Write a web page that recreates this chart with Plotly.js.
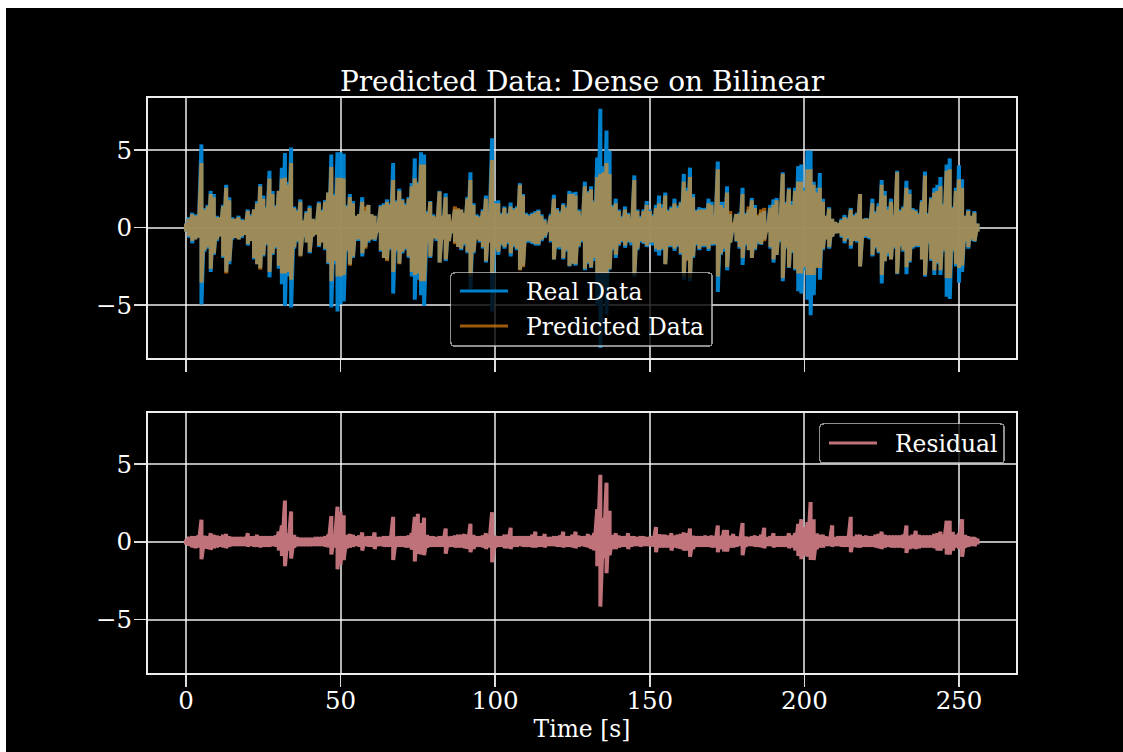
<!DOCTYPE html>
<html>
<head>
<meta charset="utf-8">
<script src="https://cdn.plot.ly/plotly-3.0.1.min.js"></script>
<style>
html,body{margin:0;padding:0;background:#fff;overflow:hidden}
#chart{position:absolute;left:6px;top:8px;width:1117px;height:744px}
</style>
</head>
<body>
<div id="chart"></div>
<script>
const titleText = "Predicted Data: Dense on Bilinear";
const xLabel = "Time [s]";
const xTicks = [0, 50, 100, 150, 200, 250];
const yTicks = [-5, 0, 5];
const realName = "Real Data";
const predName = "Predicted Data";
const resName = "Residual";

// Envelope magnitudes per second (t = 0..256) at the outer edge of the stroke.
const realUp = [
.3,.7,1.0,.9,.8,5.4,1.3,1.5,2.4,2.2,
.8,.7,1.5,2.8,2.0,.7,.6,.8,.6,.5,
1.2,.9,1.2,1.75,2.85,2.1,1.4,3.7,2.4,1.5,
2.4,3.9,4.85,3.0,5.2,1.4,1.2,1.85,.5,1.1,
1.45,.6,.5,1.7,1.2,1.8,2.3,4.75,2.2,4.9,
4.9,4.8,1.5,2.2,1.75,.8,.9,2.0,1.1,1.5,
.9,.8,.3,1.5,1.6,1.85,1.6,4.2,1.8,2.55,
1.9,1.6,2.0,2.9,4.5,3.0,4.9,4.75,1.1,1.75,
.9,.7,2.4,.8,2.25,.9,.4,1.2,1.2,1.2,
1.0,2.0,3.6,1.6,.9,.8,1.2,2.1,.9,5.8,
1.75,1.8,1.0,1.4,1.0,1.65,1.3,1.4,2.9,2.2,
1.0,.9,1.0,1.1,1.2,.9,.6,.2,.9,2.15,
1.3,1.1,1.6,1.4,2.4,2.3,2.35,1.2,.9,3.0,
2.4,2.7,1.8,4.55,7.7,4.0,6.3,5.0,1.5,1.9,
1.2,.8,1.4,1.0,.7,3.4,1.2,.8,1.2,1.75,
1.2,.9,1.5,2.1,1.55,2.3,1.2,1.4,1.9,1.45,
1.7,3.5,2.6,3.9,2.2,1.2,1.35,1.3,1.3,1.9,
1.7,.9,4.3,1.7,1.7,2.7,.9,.25,.9,1.0,
2.6,1.0,1.2,1.95,1.5,.8,1.0,1.1,.3,1.5,
1.85,1.95,.9,3.6,1.7,2.6,1.75,2.6,4.0,4.1,
2.6,5.0,5.0,3.0,2.6,3.55,1.9,.8,1.35,.6,
.4,.3,.6,.85,.7,1.3,.9,1.0,2.2,.6,
.65,.6,1.9,1.1,1.6,3.1,2.4,1.4,1.9,.9,
3.7,1.2,1.4,3.05,2.5,1.3,1.2,1.0,1.8,3.65,
1.0,2.0,2.6,2.8,3.3,1.6,4.1,4.5,1.4,2.6,
4.05,3.15,.8,1.2,.8,1.1,.3];
const realDown = [
.3,.7,1.05,.8,.7,5.0,1.6,1.4,2.9,1.8,
.9,.6,2.0,2.9,2.4,.8,.7,.8,.7,.5,
1.2,.9,2.1,2.4,2.65,1.9,1.2,3.25,1.8,1.4,
2.7,3.7,5.1,3.2,5.2,1.4,1.0,1.85,.7,1.0,
1.7,.6,.5,1.3,1.0,1.5,2.4,5.2,2.4,5.45,
5.0,4.8,1.6,2.4,2.0,.9,.9,1.9,1.3,1.0,
.8,.9,.35,1.6,2.0,2.1,1.5,4.3,1.6,2.35,
1.7,1.5,2.0,3.2,4.7,3.4,4.4,5.1,1.1,2.0,
.7,.9,2.3,.8,2.2,.9,.4,1.0,1.3,1.5,
1.2,1.7,4.0,1.7,.8,1.0,1.4,2.3,1.0,5.45,
1.5,1.8,1.2,1.4,1.1,1.9,1.3,1.5,2.75,2.5,
1.0,1.0,1.1,1.2,1.2,.9,.7,.3,1.0,2.1,
1.4,1.45,2.1,1.6,2.55,2.4,2.5,1.3,1.0,2.8,
2.4,2.65,2.2,5.1,7.8,4.0,5.65,2.75,1.5,2.0,
1.2,1.0,1.35,1.0,1.2,3.2,1.5,1.0,1.1,1.3,
1.1,1.2,1.6,1.85,1.5,2.4,1.3,1.3,1.55,1.3,
1.8,3.4,2.1,3.5,2.0,1.2,1.5,1.3,1.3,1.55,
1.2,1.2,4.2,1.8,1.6,2.8,1.0,.3,.95,1.4,
2.45,1.2,1.5,2.0,1.5,1.1,1.15,.8,.3,1.4,
2.3,1.8,1.0,3.5,1.4,2.65,1.7,2.8,4.15,4.3,
2.8,4.7,5.7,4.4,2.6,3.4,1.5,.8,1.4,.6,
.4,.4,.7,1.05,.8,1.4,.9,1.0,2.55,.7,
.7,.8,1.9,1.4,1.7,3.65,2.2,1.9,2.1,1.4,
3.05,1.3,1.6,3.05,2.3,1.4,1.3,1.3,2.1,3.2,
1.1,2.2,3.1,2.4,3.1,1.6,4.5,4.65,1.6,2.55,
3.6,2.9,1.0,1.4,.9,.95,.3];
const predUp = [
.3,.6,.9,.8,.8,4.2,1.2,1.4,2.2,2.0,
.7,.7,1.4,2.6,1.8,.6,.6,.7,.5,.5,
1.1,.8,1.2,1.6,2.7,1.9,1.3,3.2,2.2,1.4,
2.4,3.2,3.25,2.8,4.2,1.3,1.1,1.7,.5,1.0,
1.3,.6,.5,1.6,1.1,1.7,2.3,3.95,2.1,3.25,
3.25,3.2,1.4,2.0,1.6,.8,.9,1.7,1.4,1.5,
.9,.8,.3,1.4,1.5,1.7,1.5,3.1,1.7,2.4,
1.8,1.5,1.9,2.7,3.2,2.9,4.1,4.1,1.0,1.7,
.8,.7,2.35,.8,2.0,.9,.5,1.4,1.3,1.2,
1.0,1.9,3.1,1.5,.8,.7,1.1,1.9,.8,4.4,
1.6,1.6,.9,1.3,.9,1.4,1.2,1.3,2.8,2.1,
.9,.8,.9,1.0,1.1,.8,.5,.2,.8,1.9,
1.2,1.0,1.5,1.3,2.2,2.2,2.1,1.1,.8,2.7,
2.3,2.5,1.7,3.3,3.5,3.6,4.2,3.5,1.4,1.6,
1.1,.7,1.2,.9,.6,3.1,1.1,.7,1.1,1.5,
1.1,.8,1.3,1.6,1.3,2.1,1.1,1.3,1.6,1.3,
1.6,3.0,2.4,3.3,2.0,1.1,1.2,1.2,1.2,1.6,
1.5,.8,3.8,1.5,1.3,2.3,1.1,.4,.9,.9,
2.2,.9,1.4,1.8,1.3,.9,1.2,1.3,.35,1.3,
1.5,1.8,.8,3.5,1.6,2.5,1.5,2.4,3.0,3.0,
2.4,3.8,3.8,2.8,2.3,2.6,1.7,.8,1.25,.6,
.4,.3,.5,.7,.6,1.2,.8,.9,2.2,.6,
.6,.6,1.6,1.0,1.4,2.8,2.1,1.2,1.7,.8,
3.6,1.1,1.3,2.6,2.2,1.2,1.1,.9,1.7,3.4,
.9,1.9,2.3,2.4,2.7,1.5,3.7,3.8,1.3,2.4,
3.15,2.6,.8,1.1,.8,1.0,.3];
const predDown = [
.3,.6,.9,.8,.7,3.6,1.5,1.3,2.7,1.7,
.8,.6,1.9,3.0,2.2,.7,.7,.8,.6,.5,
1.1,.9,2.0,2.4,2.75,1.8,1.1,2.9,1.7,1.3,
2.5,3.0,3.0,2.9,3.4,1.3,.9,1.9,.6,1.0,
1.6,.6,.5,1.2,1.0,1.4,2.3,3.5,2.2,3.2,
3.2,3.1,1.5,2.5,1.9,.8,.8,1.7,1.4,.9,
.8,.8,.35,1.5,2.0,2.2,1.4,2.9,1.5,2.4,
1.6,1.4,1.9,2.9,3.1,3.0,3.5,3.5,1.0,1.9,
.7,.8,2.3,.8,2.1,.9,.4,1.1,1.3,1.4,
1.1,1.6,3.2,1.6,.8,.9,1.3,2.2,1.0,3.0,
1.4,1.6,1.1,1.3,1.0,1.7,1.2,1.4,2.8,2.6,
.9,.9,1.0,1.1,1.1,.8,.6,.3,.9,2.1,
1.3,1.3,2.0,1.5,2.5,2.35,2.4,1.2,.9,2.7,
2.3,2.6,2.0,3.0,3.0,3.0,3.0,2.7,1.4,1.8,
1.1,.9,1.2,.9,1.0,3.1,1.4,.9,1.0,1.2,
1.0,1.0,1.4,1.5,1.4,2.4,1.2,1.2,1.4,1.2,
1.7,3.2,2.2,3.3,1.9,1.1,1.4,1.2,1.2,1.4,
1.1,1.1,3.2,1.7,1.4,2.6,1.0,.35,.9,1.3,
2.0,1.1,1.5,2.0,1.4,1.0,1.1,.9,.35,1.3,
2.1,1.8,.9,3.3,1.3,2.6,1.6,2.7,3.0,3.0,
2.6,3.1,3.1,3.1,2.65,2.65,1.4,.8,1.3,.6,
.4,.4,.6,.9,.7,1.2,.9,.9,2.55,.6,
.6,.7,1.8,1.3,1.6,3.1,2.2,1.7,2.1,1.3,
3.0,1.2,1.5,2.6,2.2,1.3,1.2,1.2,2.1,3.1,
1.0,2.1,2.8,2.3,2.8,1.5,3.3,3.3,1.5,2.4,
2.65,2.5,.9,1.3,.8,.9,.3];
const resUp = [
.2,.35,.4,.4,.45,1.47,.45,.4,.6,.5,
.45,.4,.5,.55,.4,.35,.35,.35,.35,.35,
.6,.4,.4,.5,.4,.4,.4,.4,.4,.45,
.7,1.1,2.7,.6,2.0,.5,.35,.3,.3,.3,
.3,.3,.35,.35,.35,.4,.5,1.7,.5,2.3,
2.0,1.75,.5,.55,.5,.4,.45,.65,.4,.4,
.4,.65,.35,.35,.4,.4,.4,1.65,.4,.4,
.4,.4,.45,.6,1.65,1.85,1.25,1.6,.5,.4,
.4,.35,.4,.4,.9,.4,.4,.45,.5,.5,
.55,.5,1.2,.5,.4,.4,.45,.6,.45,1.95,
.45,.4,.4,.5,.5,.95,.4,.4,.4,.4,
.4,.4,.5,.7,.4,.4,.55,.35,.35,.4,
.4,.45,.7,.4,.4,.5,.7,.45,.4,.4,
.55,.45,.6,2.15,4.35,1.6,3.85,2.05,.5,.6,
.45,.4,.4,.6,.4,.4,.35,.4,.4,.35,
.35,.4,1.0,.55,.5,.5,.45,.6,.45,.5,
.55,.65,.6,.9,.45,.4,.4,.4,.45,.4,
.45,.4,1.1,.45,.8,.8,.45,.55,.4,.35,
1.25,.4,.35,.4,.45,.4,.5,.95,.35,.4,
.6,.4,.4,.4,.4,.6,.45,.6,1.2,1.5,
1.0,1.3,2.6,1.5,.6,.5,.5,.4,.35,1.1,
.35,.4,.4,.4,.4,1.65,.4,.5,.5,.4,
.45,.4,.4,.5,.55,.7,.5,.45,.45,.45,
.45,.45,.5,1.1,.45,.5,.75,.5,.45,.45,
.45,.45,.55,.6,.7,.5,1.4,1.4,.7,.5,
.6,1.5,.5,.4,.35,.35,.25];
const resDown = [
.2,.3,.4,.45,.4,1.15,.45,.5,.55,.45,
.4,.35,.4,.45,.35,.3,.3,.3,.3,.3,
.35,.3,.35,.35,.4,.35,.35,.35,.3,.35,
.6,.95,1.6,.6,1.1,.4,.3,.3,.3,.3,
.3,.3,.3,.3,.3,.35,.4,.85,.4,1.8,
1.5,1.2,.45,.4,.35,.3,.35,.6,.3,.35,
.35,.5,.3,.3,.35,.35,.35,1.2,.35,.35,
.35,.4,.4,.55,1.3,.8,.85,.9,.4,.35,
.35,.35,.35,.35,.8,.35,.35,.4,.4,.4,
.45,.5,.7,.5,.35,.35,.4,.5,.4,1.35,
.4,.35,.35,.45,.45,.5,.35,.35,.3,.35,
.35,.35,.4,.4,.35,.35,.4,.3,.3,.3,
.35,.35,.4,.35,.35,.4,.45,.35,.3,.35,
.4,.5,.6,1.6,4.2,1.1,2.05,.9,.5,.5,
.4,.35,.35,.5,.35,.3,.3,.35,.3,.3,
.3,.35,.7,.4,.4,.4,.4,.6,.4,.45,
.5,.6,.6,1.0,.5,.35,.35,.35,.35,.35,
.4,.4,.7,.5,.65,.65,.4,.4,.35,.3,
.9,.35,.3,.3,.35,.35,.4,.45,.3,.3,
.4,.35,.35,.35,.35,.45,.4,.6,.95,1.15,
.9,1.0,1.2,1.2,.5,.4,.4,.3,.3,.35,
.3,.3,.35,.35,.35,.7,.35,.4,.4,.35,
.35,.35,.35,.4,.45,.5,.4,.35,.4,.4,
.4,.4,.45,.75,.5,.45,.5,.45,.4,.4,
.4,.4,.45,.6,.6,.45,.85,.85,.6,.4,
.5,1.0,.4,.35,.3,.3,.2];

const edgeInset = 0.04; // part of a stroke, in y units

function weave(up, down) {
  const x = [], y = [];
  up.forEach((u, i) => {
    x.push(i, i);
    y.push(Math.max(u - edgeInset, 0.03), -Math.max(down[i] - edgeInset, 0.03));
  });
  return {x, y};
}

const real = weave(realUp, realDown);
const pred = weave(predUp, predDown);
const res = weave(resUp, resDown);

const serif = "DejaVu Serif, serif";
const traceBase = {type: "scatter", mode: "lines", hoverinfo: "skip"};
const data = [
  {...traceBase, ...real, name: realName, xaxis: "x", yaxis: "y", legend: "legend",
   line: {color: "rgba(0,134,214,0.96)", width: 4, simplify: false}},
  {...traceBase, ...pred, name: predName, xaxis: "x", yaxis: "y", legend: "legend",
   line: {color: "rgba(252,145,16,0.62)", width: 4, simplify: false}},
  {...traceBase, ...res, name: resName, xaxis: "x2", yaxis: "y2", legend: "legend2",
   line: {color: "#c0727b", width: 4, simplify: false}}
];

const xBase = {
  range: [-12.29, 268.43], tickmode: "array", tickvals: xTicks,
  showgrid: true, gridcolor: "rgba(255,255,255,0.7)", gridwidth: 2,
  zeroline: false, showline: true, mirror: true, linecolor: "#eeeeee", linewidth: 2,
  ticks: "outside", ticklen: 12, tickwidth: 1.5, tickcolor: "#dddddd",
  tickfont: {family: serif, size: 24.5, color: "#ffffff"}
};
const yBase = {
  tickmode: "array", tickvals: yTicks,
  showgrid: true, gridcolor: "rgba(255,255,255,0.7)", gridwidth: 2,
  zeroline: false, showline: true, mirror: true, linecolor: "#eeeeee", linewidth: 2,
  ticks: "outside", ticklen: 12, tickwidth: 1.5, tickcolor: "#dddddd",
  tickfont: {family: serif, size: 24.5, color: "#ffffff"}, ticklabelstandoff: -3
};
const legendBase = {
  bgcolor: "rgba(0,0,0,0.8)", bordercolor: "rgba(204,204,204,0.7)", borderwidth: 1.5,
  font: {family: serif, size: 23.4, color: "#ffffff"},
  xanchor: "left", yanchor: "top", itemwidth: 48, tracegroupgap: 0
};

const layout = {
  width: 1117, height: 744,
  paper_bgcolor: "#000000", plot_bgcolor: "#000000",
  margin: {l: 142, r: 107, t: 90, b: 79, pad: 0},
  showlegend: true,
  title: {text: titleText, font: {family: serif, size: 28, color: "#ffffff"},
          x: 0.5, xref: "paper", xanchor: "center", y: 0.8885, yref: "container", yanchor: "bottom", pad: {t:0,b:0,l:0,r:0}},
  xaxis: {...xBase, domain: [0, 1], anchor: "y", showticklabels: false},
  yaxis: {...yBase, range: [-8.415, 8.355], domain: [0.5478, 1], anchor: "x"},
  xaxis2: {...xBase, domain: [0, 1], anchor: "y2", matches: "x", ticklabelstandoff: -7,
           title: {text: xLabel, font: {family: serif, size: 23.4, color: "#ffffff"}, standoff: 2}},
  yaxis2: {...yBase, range: [-8.43, 8.29], domain: [0, 0.4522], anchor: "x2"},
  legend: {...legendBase, x: 0.3479, y: 0.6974, entrywidth: 200},
  legend2: {...legendBase, x: 0.7730, y: 0.4348, entrywidth: 125}
};

// Box sizes and row centres of the two legends, in pixels from the box corner.
const legendBoxes = {legend: {w: 263, h: 75, rows: [19, 54]}, legend2: {w: 186, h: 41, rows: [20]}};

Plotly.newPlot("chart", data, layout, {displayModeBar: false, staticPlot: true}).then(() => {
  document.querySelectorAll("rect.bg").forEach(r => {
    const g = r.parentNode;
    const box = legendBoxes[g.getAttribute("class")];
    if (!box) return;
    r.setAttribute("rx", 4); r.setAttribute("ry", 4);
    r.setAttribute("width", box.w - 1.5);
    r.setAttribute("height", box.h - 1.5);
    const scroll = g.querySelector(".scrollbox");
    if (scroll) { scroll.removeAttribute("clip-path"); scroll.style.clipPath = "none"; }
    g.querySelectorAll(".traces").forEach((t, i) => {
      t.setAttribute("transform", "translate(0," + box.rows[i] + ")");
      const label = t.querySelector("text");
      if (label) label.setAttribute("x", 76);
      const p = t.querySelector("path.js-line");
      if (p) { p.setAttribute("d", "M10,0h48"); p.style.strokeWidth = "2.8px"; }
    });
  });
});
</script>
</body>
</html>
